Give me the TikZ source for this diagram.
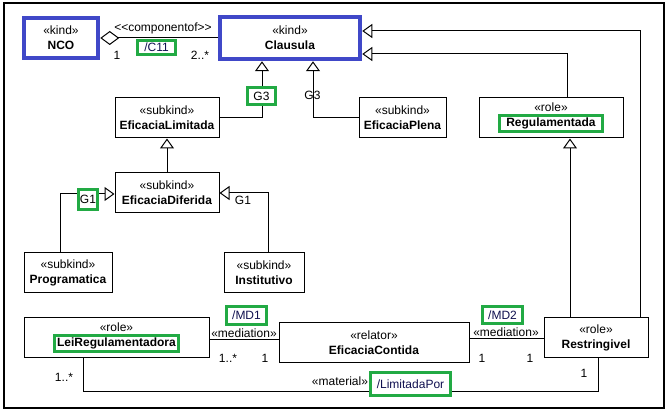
\documentclass[tikz,border=0pt]{standalone}
\usepackage{fontspec}
\setmainfont{Liberation Sans}
\usetikzlibrary{arrows.meta}

\definecolor{kindblue}{RGB}{64,72,200}
\definecolor{hlgreen}{RGB}{34,170,68}
\definecolor{derived}{RGB}{16,16,80}

% 绿色框住的类名
\newcommand{\hlname}[2][4pt]{{\setlength{\fboxrule}{3pt}\setlength{\fboxsep}{1pt}%
  \fcolorbox{hlgreen}{white}{\hspace{#1}\textbf{#2}\hspace{#1}}}}

\tikzset{
  cls/.style={draw, line width=1pt, align=center, inner sep=0pt,
    font=\fontsize{12}{15}\selectfont},
  kindbox/.style={cls, draw=kindblue, line width=4.5pt},
  hlbox/.style={draw=hlgreen, line width=3pt, fill=white, inner sep=0pt,
    font=\fontsize{12}{14}\selectfont},
  lbl/.style={inner sep=0pt, font=\fontsize{12}{14}\selectfont},
}

\begin{document}
\begin{tikzpicture}[>={Triangle[open,length=10pt,width=14pt]}, x=1pt, y=-1pt, line width=1pt]
    \useasboundingbox (0,0) rectangle (670,414);
    % 外框
    \draw[line width=1.4pt] (4,3) rectangle (664,408);

    % kind 类 (蓝色粗框)
    \node[kindbox, minimum width=74, minimum height=40] (nco) at (61,38) {«kind»\\\textbf{NCO}};
    \node[kindbox, minimum width=140, minimum height=42] (clausula) at (290,38) {«kind»\\\textbf{Clausula}};

    % subkind 与 role
    \node[cls, minimum width=104, minimum height=40] (limitada) at (167,118) {«subkind»\\\textbf{EficaciaLimitada}};
    \node[cls, minimum width=87, minimum height=40] (plena) at (402.5,118) {«subkind»\\\textbf{EficaciaPlena}};
    \node[cls, minimum width=144, minimum height=40] (reg) at (551,118) {«role»\\\hlname{Regulamentada}};
    \node[cls, minimum width=104, minimum height=40] (diferida) at (167,193) {«subkind»\\\textbf{EficaciaDiferida}};
    \node[cls, minimum width=88, minimum height=40] (programatica) at (68,273) {«subkind»\\\textbf{Programatica}};
    \node[cls, minimum width=80, minimum height=40] (institutivo) at (264,273) {«subkind»\\\textbf{Institutivo}};

    % 底部一行
    \node[cls, minimum width=185, minimum height=40] (lei) at (116.5,338) {«role»\\\hlname[0pt]{LeiRegulamentadora}};
    \node[cls, minimum width=190, minimum height=40] (contida) at (374,343) {«relator»\\\textbf{EficaciaContida}};
    \node[cls, minimum width=104, minimum height=40] (restr) at (596,338) {«role»\\\textbf{Restringivel}};

    % componentof
    \draw[{Diamond[open,length=19pt,width=14pt]}-] (nco.east) -- (clausula.west);
    \node[lbl] (compof) at (163,28) {<\kern0pt<componentof>\kern0pt>};
    \node[hlbox, text=derived, minimum width=38, minimum height=14] (c11) at (156.5,47.5) {/C11};
    \node[lbl] (mnco) at (117,55) {1};
    \node[lbl] (mcla) at (200,55) {2..*};

    % 泛化到 Clausula
    \draw[->] (limitada.east) -| ([xshift=-28pt]clausula.south);
    \draw[->] (plena.west) -| ([xshift=23pt]clausula.south);
    \draw[->] ([xshift=16pt]reg.north) |- ([yshift=-16pt]clausula.east);
    \draw[->] ([xshift=44pt]restr.north) |- ([yshift=7pt]clausula.east);
    \node[hlbox, minimum width=28, minimum height=17] (g3a) at (261.5,96) {G3};
    \node[lbl] (g3b) at (312.5,95) {G3};

    % 泛化到 EficaciaLimitada / EficaciaDiferida
    \draw[->] (diferida.north) -- (limitada.south);
    \draw[->] ([xshift=-8pt]programatica.north) |- ([yshift=-1pt]diferida.west);
    \draw[->] ([xshift=4pt]institutivo.north) |- (diferida.east);
    \node[hlbox, minimum width=19, minimum height=20] (g1a) at (88,199.5) {G1};
    \node[lbl] (g1b) at (243,200) {G1};

    % 泛化到 Regulamentada
    \draw[->] ([xshift=-26pt]restr.north) -- ([xshift=19pt]reg.south);

    % mediation
    \draw ([yshift=-2pt]lei.east) -- ([yshift=3pt]contida.west);
    \node[lbl] (med1) at (244,333) {«mediation»};
    \node[hlbox, text=derived, minimum width=40, minimum height=18] (md1) at (246.5,315.5) {/MD1};
    \node[lbl] (mlei) at (228,358) {1..*};
    \node[lbl] (mcon1) at (265,358) {1};

    \draw ([yshift=4pt]contida.east) -- ([yshift=-1pt]restr.west);
    \node[lbl] (med2) at (506,332) {«mediation»};
    \node[hlbox, text=derived, minimum width=40, minimum height=17] (md2) at (502.5,315) {/MD2};
    \node[lbl] (mcon2) at (482,358) {1};
    \node[lbl] (mres) at (530,358) {1};

    % material
    \draw ([xshift=-33.5pt]lei.south) -- ++(0,33) -| ([xshift=2pt]restr.south);
    \node[lbl] (mat) at (340,381) {«material»};
    \node[hlbox, text=derived, minimum width=80, minimum height=23] (limpor) at (410.5,384) {/LimitadaPor};
    \node[lbl] (mlei2) at (64,377) {1..*};
    \node[lbl] (mres2) at (584,373) {1};
\end{tikzpicture}
\end{document}
